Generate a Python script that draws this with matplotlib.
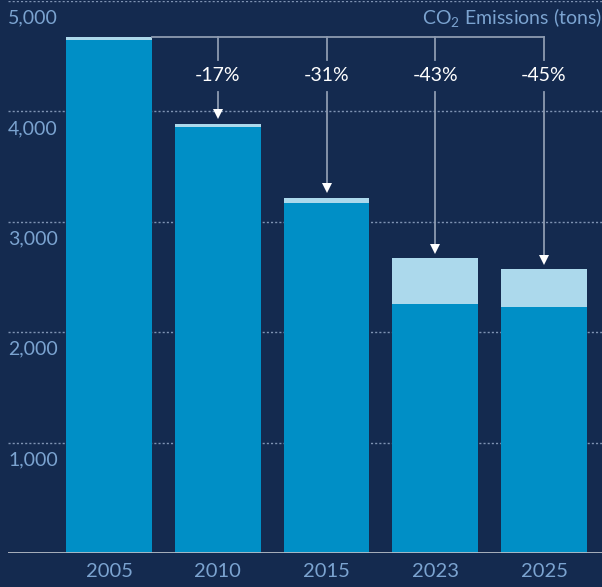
import matplotlib
matplotlib.use("Agg")
from matplotlib import pyplot as plt
import numpy as np

years = ["2005", "2010", "2015", "2023", "2025"]
base_tons = [4645, 3859, 3170, 2255, 2228]
total_tons = [4675, 3886, 3216, 2672, 2572]
change_labels = ["", "-17%", "-31%", "-43%", "-45%"]
y_ticks = [1000, 2000, 3000, 4000, 5000]

BG = "#142a4f"
DARK = "#008fc6"
LIGHT = "#acd9ec"
MUTED = "#7ba3d0"
LINE = "#8d9ab0"

plt.rcParams["font.family"] = ["Lato", "DejaVu Sans"]
plt.rcParams["mathtext.fontset"] = "custom"
plt.rcParams["mathtext.rm"] = "Lato"

W, H = 602, 587
fig = plt.figure(figsize=(W / 100, H / 100), dpi=100, facecolor=BG)
ax = fig.add_axes([8 / W, 34 / H, 594 / W, 552 / H])
ax.set_facecolor(BG)

x = np.arange(len(years))
ax.set_xlim(-0.929, 4.533)
ax.set_ylim(0, 5000)
px = 5000 / 552  # data units per pixel

for v in y_ticks:
    ax.axhline(v, color="#7f93b3", lw=1, ls=(0, (1.5, 1.5)), zorder=1)
    ax.text(0, v - 17 * px, f"{v:,}", transform=ax.get_yaxis_transform(),
            ha="left", va="center", color=MUTED, fontsize=14)

extra = [t - b for t, b in zip(total_tons, base_tons)]
ax.bar(x, base_tons, width=0.79, color=DARK, zorder=2)
ax.bar(x, extra, bottom=base_tons, width=0.79, color=LIGHT, zorder=2)
ax.axhline(0, color="#b6bcc6", lw=2, zorder=3)

# reduction annotations hanging from the 2005 level
top = total_tons[0]
label_y = top - 39 * px
ax.plot([x[0] + 0.395, x[-1]], [top, top], color=LINE, lw=1.3, zorder=3)
for i in range(1, len(years)):
    tip = total_tons[i] + 6 * px
    ax.plot([x[i], x[i]], [top, label_y + 16 * px], color=LINE, lw=1.3, zorder=3)
    ax.plot([x[i], x[i]], [label_y - 16 * px, tip + 6 * px], color=LINE, lw=1.3, zorder=3)
    ax.plot(x[i], tip + 3.5 * px, marker="v", ms=7, color="white", mew=0, zorder=4)
    ax.text(x[i], label_y, change_labels[i], ha="center", va="center",
            color="white", fontsize=14)

ax.text(1, 5000 - 17 * px, r"CO$_\mathrm{2}$ Emissions (tons)",
        transform=ax.get_yaxis_transform(), ha="right", va="center",
        color=MUTED, fontsize=14)

ax.set_xticks(x, years)
ax.tick_params(axis="x", length=0, pad=7, labelsize=14.5, labelcolor=MUTED)
ax.set_yticks([])
for s in ax.spines.values():
    s.set_visible(False)

fig.savefig("out.png", dpi=100, facecolor=BG)
